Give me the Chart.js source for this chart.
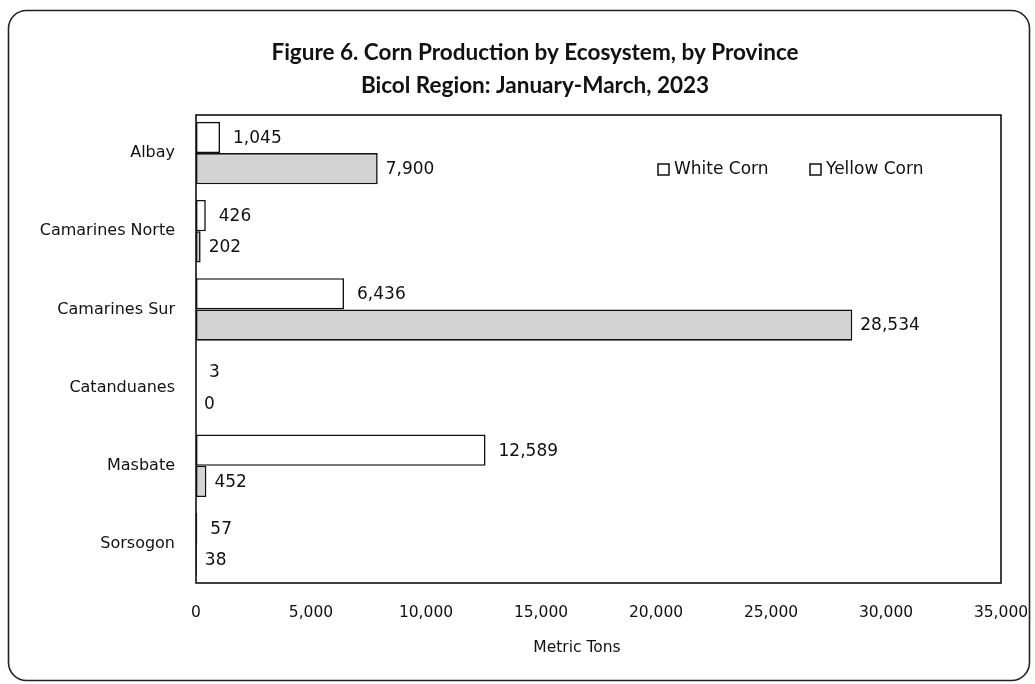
<!DOCTYPE html>
<html>
<head>
<meta charset="utf-8">
<script src="https://cdn.jsdelivr.net/npm/chart.js@4/dist/chart.umd.min.js"></script>
<style>
  html, body { margin: 0; padding: 0; background: #fff; }
  #wrap { width: 1035px; height: 684px; }
</style>
</head>
<body>
<div id="wrap"><canvas id="c" width="1035" height="684"></canvas></div>
<script>
const provinces = ['Albay', 'Camarines Norte', 'Camarines Sur', 'Catanduanes', 'Masbate', 'Sorsogon'];
const whiteCorn = [1045, 426, 6436, 3, 12589, 57];
const yellowCorn = [7900, 202, 28534, 0, 452, 38];
const seriesNames = ['White Corn', 'Yellow Corn'];
const xTicks = [0, 5000, 10000, 15000, 20000, 25000, 30000, 35000];
const titleLines = ['Figure 6. Corn Production by Ecosystem, by Province', 'Bicol Region: January-March, 2023'];
const xAxisTitle = 'Metric Tons';

const fmt = v => v.toLocaleString('en-US');
const INK = '#111111';

const decor = {
  id: 'decor',
  beforeDraw(chart) {
    const ctx = chart.ctx;
    ctx.save();
    ctx.fillStyle = '#fff';
    ctx.fillRect(0, 0, chart.width, chart.height);
    ctx.strokeStyle = '#222';
    ctx.lineWidth = 1.6;
    ctx.beginPath();
    ctx.roundRect(8.5, 10.5, 1021, 670, 18);
    ctx.stroke();
    ctx.restore();
  },
  afterDraw(chart) {
    const ctx = chart.ctx;
    const a = chart.chartArea;
    ctx.save();
    // plot frame
    ctx.strokeStyle = '#111';
    ctx.lineWidth = 1.6;
    ctx.strokeRect(a.left, a.top + 1, a.right - a.left, a.bottom - a.top - 1);

    // title
    ctx.fillStyle = INK;
    ctx.textAlign = 'center';
    ctx.textBaseline = 'alphabetic';
    ctx.font = 'bold 22.5px Lato';
    ctx.fillText(titleLines[0], 535, 60);
    ctx.fillText(titleLines[1], 535, 93);

    // axis title
    ctx.font = '15.5px "DejaVu Sans"';
    ctx.textBaseline = 'middle';
    ctx.fillText(xAxisTitle, 577, 648);

    // legend
    ctx.textAlign = 'left';
    ctx.font = '17px "DejaVu Sans"';
    ctx.lineWidth = 1.5;
    const leg = [{ x: 658, text: seriesNames[0] }, { x: 810, text: seriesNames[1] }];
    leg.forEach(l => {
      ctx.fillStyle = '#fff';
      ctx.fillRect(l.x, 164, 11, 11);
      ctx.strokeStyle = '#111';
      ctx.strokeRect(l.x, 164, 11, 11);
      ctx.fillStyle = INK;
      ctx.fillText(l.text, l.x + 16, 170);
    });

    // data labels
    ctx.font = '17px "DejaVu Sans"';
    ctx.textBaseline = 'middle';
    const offsets = [13, 8];
    chart.data.datasets.forEach((ds, di) => {
      const meta = chart.getDatasetMeta(di);
      meta.data.forEach((el, i) => {
        ctx.fillText(fmt(ds.data[i]), el.x + offsets[di], el.y + 1);
      });
    });
    ctx.restore();
  }
};

new Chart(document.getElementById('c'), {
  type: 'bar',
  data: {
    labels: provinces,
    datasets: [
      {
        label: seriesNames[0],
        data: whiteCorn,
        backgroundColor: '#ffffff',
        borderColor: '#111',
        borderWidth: 1.6,
        borderSkipped: false
      },
      {
        label: seriesNames[1],
        data: yellowCorn,
        backgroundColor: '#d3d3d3',
        borderColor: '#111',
        borderWidth: 1.6,
        borderSkipped: false
      }
    ]
  },
  options: {
    indexAxis: 'y',
    responsive: false,
    maintainAspectRatio: false,
    devicePixelRatio: 1,
    animation: false,
    layout: { padding: { top: 114, right: 34, left: 0, bottom: 0 } },
    datasets: { bar: { categoryPercentage: 0.8, barPercentage: 1.0 } },
    plugins: {
      legend: { display: false },
      title: { display: false },
      tooltip: { enabled: false }
    },
    scales: {
      x: {
        min: 0,
        max: 35000,
        afterBuildTicks: s => { s.ticks = xTicks.map(v => ({ value: v })); },
        afterFit: s => { s.height = 101; s.paddingRight = 0; s.paddingLeft = 0; },
        grid: { display: false, drawTicks: false },
        border: { display: false },
        ticks: {
          padding: 21,
          maxRotation: 0,
          autoSkip: false,
          color: INK,
          font: { family: 'DejaVu Sans', size: 15.5 },
          callback: v => fmt(v)
        }
      },
      y: {
        afterFit: s => { s.width = 196; s.paddingTop = 0; s.paddingBottom = 0; },
        grid: { display: false, drawTicks: false },
        border: { display: false },
        ticks: {
          padding: 21,
          color: INK,
          font: { family: 'DejaVu Sans', size: 16 }
        }
      }
    }
  },
  plugins: [decor]
});
</script>
</body>
</html>
